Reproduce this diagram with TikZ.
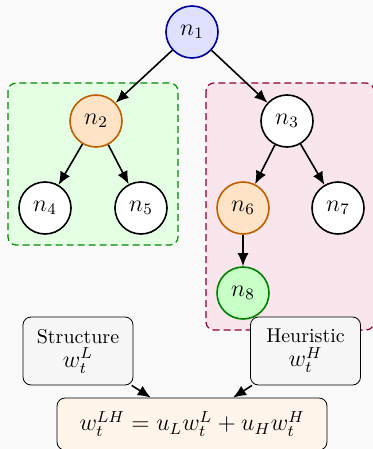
\documentclass[tikz,border=0pt]{standalone}
\usepackage{xcolor}
\usepackage{tikz}
\usetikzlibrary{arrows.meta, positioning, calc}

\begin{document}
\begin{tikzpicture}[x=0.5pt, y=-0.5pt,
    tnode/.style={circle, draw, thick, fill=white, minimum size=26pt, inner sep=0pt, font=\large},
    tarrow/.style={thick, -{Latex[length=6.5pt, width=5.5pt]}},
    grpbox/.style={semithick, dash pattern=on 3.5pt off 2pt, rounded corners=4pt},
    infobox/.style={draw, rounded corners=4pt, fill=black!3, minimum width=55pt, minimum height=34pt, align=center, inner sep=2pt}]
        % background and groups
        \useasboundingbox[fill=black!2] (0,0) rectangle (373,449);
        \draw[grpbox, green!55!black, fill=green!10] (8,83) rectangle (178,245);
        \draw[grpbox, purple!75!black, fill=purple!10] (206,83) rectangle (374,330);

        \node[tnode, draw=blue!60!black, fill=blue!12] (n1) at (192,32) {$n_1$};
        \node[tnode, draw=orange!75!black, fill=orange!22] (n2) at (96,121) {$n_2$};
        \node[tnode] (n3) at (287,121) {$n_3$};
        \node[tnode] (n4) at (45,208) {$n_4$};
        \node[tnode] (n5) at (141,208) {$n_5$};
        \node[tnode, draw=orange!75!black, fill=orange!22] (n6) at (243,208) {$n_6$};
        \node[tnode] (n7) at (338,208) {$n_7$};
        \node[tnode, draw=green!50!black, fill=green!22] (n8) at (243,293) {$n_8$};

        \draw[tarrow] (n1) -- (n2); \draw[tarrow] (n1) -- (n3);
        \draw[tarrow] (n2) -- (n4); \draw[tarrow] (n2) -- (n5);
        \draw[tarrow] (n3) -- (n6); \draw[tarrow] (n3) -- (n7);
        \draw[tarrow] (n6) -- (n8);

        % weights
        \node[infobox] (struct) at (78,351) {Structure\\ \large $w_t^L$};
        \node[infobox] (heur) at (305.5,351) {Heuristic\\ \large $w_t^H$};
        \node[draw, rounded corners=4pt, fill=orange!8, minimum width=135pt, minimum height=26pt, font=\large] (comb) at (192,424) {$w_t^{LH} = u_L w_t^L + u_H w_t^H$};

        \draw[tarrow] (struct) -- (comb); \draw[tarrow] (heur) -- (comb);
    \end{tikzpicture}
\end{document}
